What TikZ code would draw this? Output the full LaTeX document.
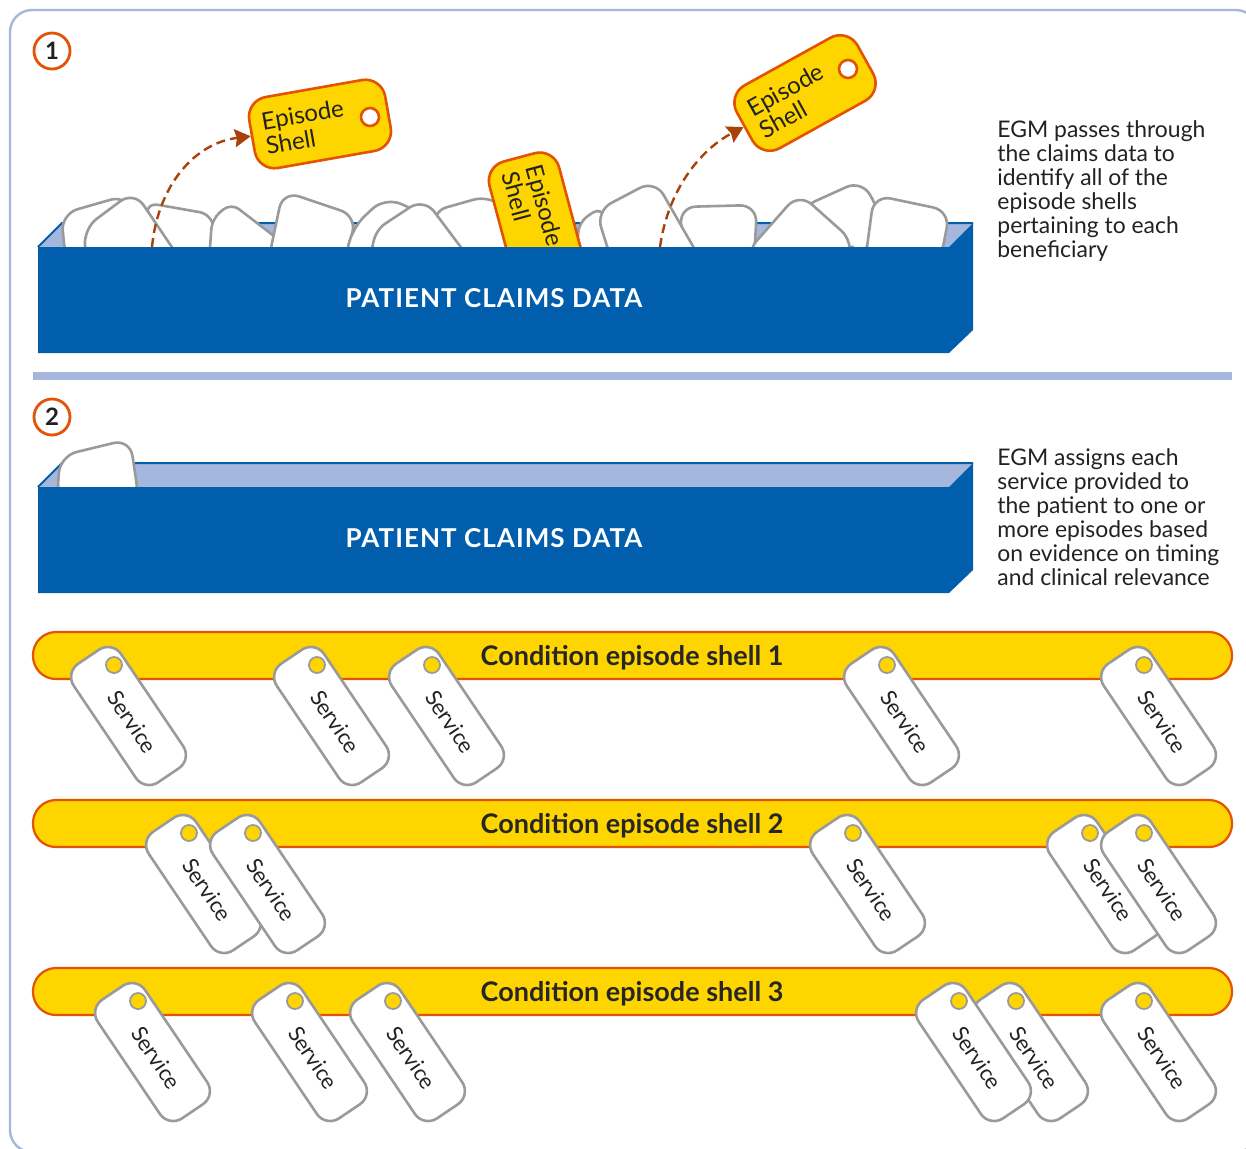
\documentclass[tikz,border=0pt]{standalone}
\usepackage{fontspec}
\setmainfont{Lato}
\usetikzlibrary{arrows.meta}
\definecolor{gold}{HTML}{FFD500}
\definecolor{rust}{HTML}{E35205}
\definecolor{peri}{HTML}{A5B7DC}
\definecolor{navy}{HTML}{005EAD}
\definecolor{tagline}{HTML}{9A9A9A}
\definecolor{arrowc}{HTML}{A8410A}
\definecolor{ink}{HTML}{222222}
\tikzset{
  x=0.5pt,y=-0.5pt,
  frameline/.style={draw=peri,line width=1.2pt},
  blob/.style={draw=tagline,fill=white,line width=1.3pt,rounded corners=8.5pt},
  smallblob/.style={blob,rounded corners=5pt},
  svctag/.style={draw=tagline,fill=white,line width=1.3pt,rounded corners=8pt,minimum width=71.5pt,minimum height=28.5pt,inner sep=0pt,font=\fontsize{11}{12}\selectfont,text=ink},
  svchole/.style={circle,draw=tagline,fill=gold,line width=.9pt,minimum size=8pt,inner sep=0pt},
  eptag/.style={draw=rust,fill=gold,line width=1.3pt,rounded corners=10pt,minimum width=69pt,minimum height=36pt,inner xsep=6pt,inner ysep=0pt,text width=57pt,align=left,font=\fontsize{12}{12.5}\selectfont,text=ink},
  ephole/.style={circle,draw=rust,fill=white,line width=1.3pt,minimum size=9pt,inner sep=0pt},
  shellbar/.style={draw=rust,fill=gold,line width=1.1pt,rounded corners=11.5pt},
  shelltext/.style={font=\fontsize{13.5}{15}\selectfont\bfseries,text=black!85},
  numdisc/.style={circle,draw=rust,fill=white,line width=1.4pt,minimum size=18pt,inner sep=0pt,font=\fontsize{12}{12}\selectfont\bfseries,text=ink},
  boxtext/.style={font=\fontsize{13}{15}\selectfont\bfseries\addfontfeature{LetterSpace=4},text=white},
  note/.style={anchor=west,align=left,inner sep=0pt,font=\fontsize{11.45}{12}\selectfont,text=ink},
  flow/.style={draw=arrowc,line width=1.2pt,dash pattern=on 4.5pt off 2.6pt,-{Stealth[length=8pt,width=9pt,inset=1pt]}},
}
% \svc{name}{hole x}{hole y}
\newcommand{\svc}[3]{%
  \node[svctag,rotate=-56] (#1) at (#2+14.5,#3+51) {\hspace*{7pt}Service};
  \node[svchole] (#1h) at (#2,#3) {};
}
\newcommand{\crate}[1]{%
  \fill[peri] (38,247+#1) -- (62,223+#1) -- (973,223+#1) -- (949,247+#1) -- cycle;
  \draw[navy,line width=1pt] (38,247+#1) -- (62,223+#1) -- (973,223+#1);
}
\newcommand{\cratefront}[1]{%
  \fill[navy] (38,247+#1) -- (949,247+#1) -- (973,223+#1) -- (973,330+#1) -- (949,353+#1) -- (38,353+#1) -- cycle;
}
\begin{document}
\begin{tikzpicture}
\useasboundingbox (0,0) rectangle (1246,1148);
\fill[white] (0,0) rectangle (1246,1148);
\begin{scope}
\clip (0,0) rectangle (1246,1148);
\draw[frameline,rounded corners=11pt] (10,10) rectangle (1258,1152);
\end{scope}
\fill[peri] (33,372) rectangle (1232,380);
% box 1
\crate{0}
\begin{scope}
\clip (0,0) rectangle (1246,247);
\draw[blob] (66,262) -- (61,214) -- (127,195) -- (150,262) -- cycle;
\draw[blob] (142,202) -- (216,215) -- (209,262) -- (170,262) -- cycle;
\draw[blob] (87,262) -- (83,229) -- (134,191) -- (182,262) -- cycle;
\draw[smallblob] (209,262) -- (212,219) -- (231,203) -- (283,243) -- (272,262) -- cycle;
\draw[blob] (268,262) -- (283,191) -- (357,216) -- (344,262) -- cycle;
\draw[blob] (345,262) -- (352,228) -- (385,197) -- (424,214) -- (410,262) -- cycle;
\draw[blob] (430,212) -- (490,195) -- (530,230) -- (530,262) -- (450,262) -- cycle;
\draw[blob] (374,262) -- (371,233) -- (424,198) -- (472,262) -- cycle;
\draw[blob] (686,262) -- (679,207) -- (757,205) -- (754,262) -- cycle;
\draw[smallblob] (576,262) -- (579,222) -- (601,207) -- (625,262) -- cycle;
\draw[blob] (612,262) -- (596,211) -- (655,180) -- (702,262) -- cycle;
\draw[blob] (800,208) -- (862,180) -- (881,215) -- (860,262) -- (800,262) -- cycle;
\draw[blob] (745,254) -- (799,193) -- (854,242) -- (848,262) -- cycle;
\draw[blob] (865,262) -- (874,195) -- (950,211) -- (940,262) -- cycle;
\node[eptag,rotate=-75] (tagmid) at (537,224) {Episode\\Shell};
\end{scope}
\cratefront{0}
\node[boxtext] (data1) at (494,298) {PATIENT CLAIMS DATA};
% upper tags
\node[eptag,rotate=10] (tagone) at (320,124) {Episode\\Shell};
\node[ephole] (tagoneh) at (370,117) {};
\node[eptag,rotate=29] (tagtwo) at (805,93) {Episode\\Shell};
\node[ephole] (tagtwoh) at (848,69) {};
\coordinate (startone) at (152,247);
\coordinate (starttwo) at (660,247);
\draw[flow] (startone) .. controls (158,185) and (195,143) .. (tagone.west);
\draw[flow] (starttwo) .. controls (668,190) and (700,150) .. (tagtwo.west);
% box 2
\crate{240}
\begin{scope}
\clip (0,0) rectangle (1246,487);
\draw[blob] (57,500) -- (60,456) -- (130,439) -- (139,500) -- cycle;
\end{scope}
\cratefront{240}
\node[boxtext] (data2) at (494,538) {PATIENT CLAIMS DATA};
% numbers
\node[numdisc] (n1) at (52,51) {1};
\node[numdisc] (n2) at (52,417) {2};
% notes
\node[note] (note1) at (997,191) {EGM passes through\\the claims data to\\identify all of the\\episode shells\\pertaining to each\\beneficiary};
\node[note] (note2) at (997,517) {EGM assigns each\\service provided to\\the patient to one or\\more episodes based\\on evidence on timing\\and clinical relevance};
% rows
\draw[shellbar] (33,632) rectangle (1232,679);
\node[shelltext] (c1) at (632,658) {Condition episode shell 1};
\svc{a1}{114}{665}\svc{a2}{317}{665}\svc{a3}{432}{665}\svc{a4}{887}{665}\svc{a5}{1144}{665}
\draw[shellbar] (33,800) rectangle (1232,847);
\node[shelltext] (c2) at (632,826) {Condition episode shell 2};
\svc{b1}{189}{833}\svc{b2}{253}{833}\svc{b3}{853}{833}\svc{b4}{1090}{833}\svc{b5}{1144}{833}
\draw[shellbar] (33,968) rectangle (1232,1015);
\node[shelltext] (c3) at (632,994) {Condition episode shell 3};
\svc{d1}{138}{1001}\svc{d2}{295}{1001}\svc{d3}{393}{1001}\svc{d5}{1016}{1001}\svc{d4}{959}{1001}\svc{d6}{1144}{1001}
\end{tikzpicture}
\end{document}
